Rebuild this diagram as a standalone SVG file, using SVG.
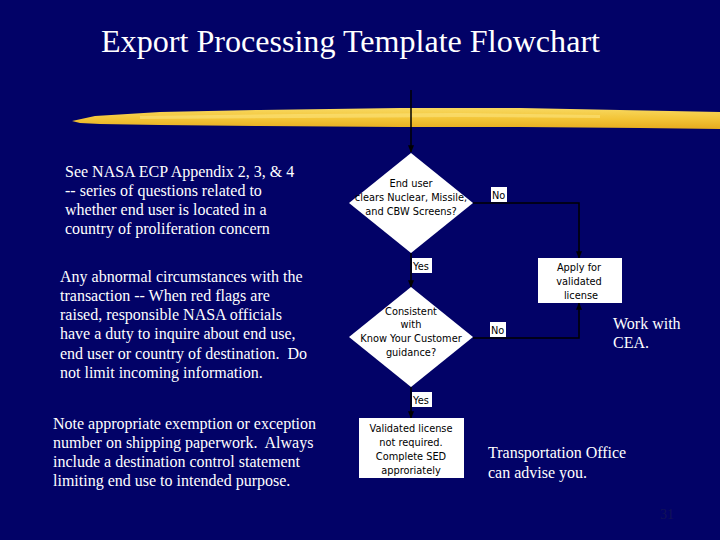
<svg xmlns="http://www.w3.org/2000/svg" width="720" height="540" viewBox="0 0 720 540">
<defs>
<linearGradient id="brush" x1="0" y1="0" x2="0" y2="1">
<stop offset="0" stop-color="#f8d860"/>
<stop offset="0.5" stop-color="#f3c538"/>
<stop offset="1" stop-color="#e6ac1e"/>
</linearGradient>
<marker id="ah" viewBox="0 0 10 10" refX="9" refY="5" markerWidth="5" markerHeight="5" orient="auto">
<path d="M0,1 L10,5 L0,9 Z" fill="#000"/>
</marker>
<style>
.serif{font-family:"Liberation Serif","Times New Roman",serif;fill:#fff}
.note{font-size:16px}
.node{fill:#fff;stroke:none}
.nt{font-family:"DejaVu Sans","Liberation Sans",sans-serif;font-size:9.8px;fill:#000;text-anchor:middle}
.lbl{fill:#fff}
.lt{font-family:"DejaVu Sans","Liberation Sans",sans-serif;font-size:9.8px;fill:#000}
.conn{stroke:#000;stroke-width:1.5;fill:none}
</style>
</defs>
<rect width="720" height="540" fill="#020267"/>
<text class="serif" x="101" y="52" font-size="32" textLength="499" lengthAdjust="spacingAndGlyphs">Export Processing Template Flowchart</text>
<g id="brushstroke">
<path d="M72,121 L95,116 L160,112 L260,110 L400,108 L520,108 L620,110 L720,112 L720,129 L640,128 L520,127 L400,127 L260,126 L160,125 L100,124 L80,123 Z" fill="url(#brush)"/>
<path d="M140,116 L300,114 L460,113 L600,115 L600,118 L460,117 L300,118 L140,119 Z" fill="#fbe27a" opacity="0.6"/>
</g>
<g id="notes">
<text class="serif note" x="65" y="177">See NASA ECP Appendix 2, 3, &amp; 4</text>
<text class="serif note" x="65" y="196">-- series of questions related to</text>
<text class="serif note" x="65" y="215">whether end user is located in a</text>
<text class="serif note" x="65" y="234">country of proliferation concern</text>
<text class="serif note" x="60" y="282">Any abnormal circumstances with the</text>
<text class="serif note" x="60" y="301">transaction -- When red flags are</text>
<text class="serif note" x="60" y="320">raised, responsible NASA officials</text>
<text class="serif note" x="60" y="339">have a duty to inquire about end use,</text>
<text class="serif note" x="60" y="359" xml:space="preserve">end user or country of destination.  Do</text>
<text class="serif note" x="60" y="378">not limit incoming information.</text>
<text class="serif note" x="53" y="429">Note appropriate exemption or exception</text>
<text class="serif note" x="53" y="448" xml:space="preserve">number on shipping paperwork.  Always</text>
<text class="serif note" x="53" y="467">include a destination control statement</text>
<text class="serif note" x="53" y="486">limiting end use to intended purpose.</text>
<text class="serif note" x="613" y="329">Work with</text>
<text class="serif note" x="613" y="348">CEA.</text>
<text class="serif note" x="488" y="458">Transportation Office</text>
<text class="serif note" x="488" y="478">can advise you.</text>
<text x="660" y="519" font-family="Liberation Serif, serif" font-size="14" fill="#121258">31</text>
</g>
<g id="connectors">
<line class="conn" x1="411" y1="90" x2="411" y2="152" marker-end="url(#ah)"/>
<line class="conn" x1="411" y1="253" x2="411" y2="287" marker-end="url(#ah)"/>
<line class="conn" x1="411" y1="387" x2="411" y2="418" marker-end="url(#ah)"/>
<polyline class="conn" points="473,203 579,203 579,258" marker-end="url(#ah)"/>
<polyline class="conn" points="473,338 579,338 579,303" marker-end="url(#ah)"/>
</g>
<g id="d1">
<polygon class="node" points="411,153 473,203 411,253 349,203"/>
<text class="nt" x="411" y="187">End user</text>
<text class="nt" x="411" y="201">clears Nuclear, Missile,</text>
<text class="nt" x="411" y="215">and CBW Screens?</text>
</g>
<g id="d2">
<polygon class="node" points="411,287 473,337 411,387 349,337"/>
<text class="nt" x="411" y="315">Consistent</text>
<text class="nt" x="411" y="328">with</text>
<text class="nt" x="411" y="342">Know Your Customer</text>
<text class="nt" x="411" y="356">guidance?</text>
</g>
<g id="apply">
<rect class="node" x="538" y="258" width="84" height="45"/>
<text class="nt" x="579" y="271">Apply for</text>
<text class="nt" x="579" y="285">validated</text>
<text class="nt" x="581" y="299">license</text>
</g>
<g id="notreq">
<rect class="node" x="359" y="418" width="105" height="60"/>
<text class="nt" x="411" y="432">Validated license</text>
<text class="nt" x="411" y="446">not required.</text>
<text class="nt" x="411" y="460">Complete SED</text>
<text class="nt" x="411" y="474">approriately</text>
</g>
<g id="labels">
<g id="no1"><rect class="lbl" x="491" y="187" width="16" height="15"/><text class="lt" x="492" y="199">No</text></g>
<g id="yes1"><rect class="lbl" x="412" y="258" width="20" height="15"/><text class="lt" x="413" y="270">Yes</text></g>
<g id="no2"><rect class="lbl" x="490" y="322" width="16" height="15"/><text class="lt" x="491" y="334">No</text></g>
<g id="yes2"><rect class="lbl" x="412" y="392" width="20" height="15"/><text class="lt" x="413" y="404">Yes</text></g>
</g>
</svg>
